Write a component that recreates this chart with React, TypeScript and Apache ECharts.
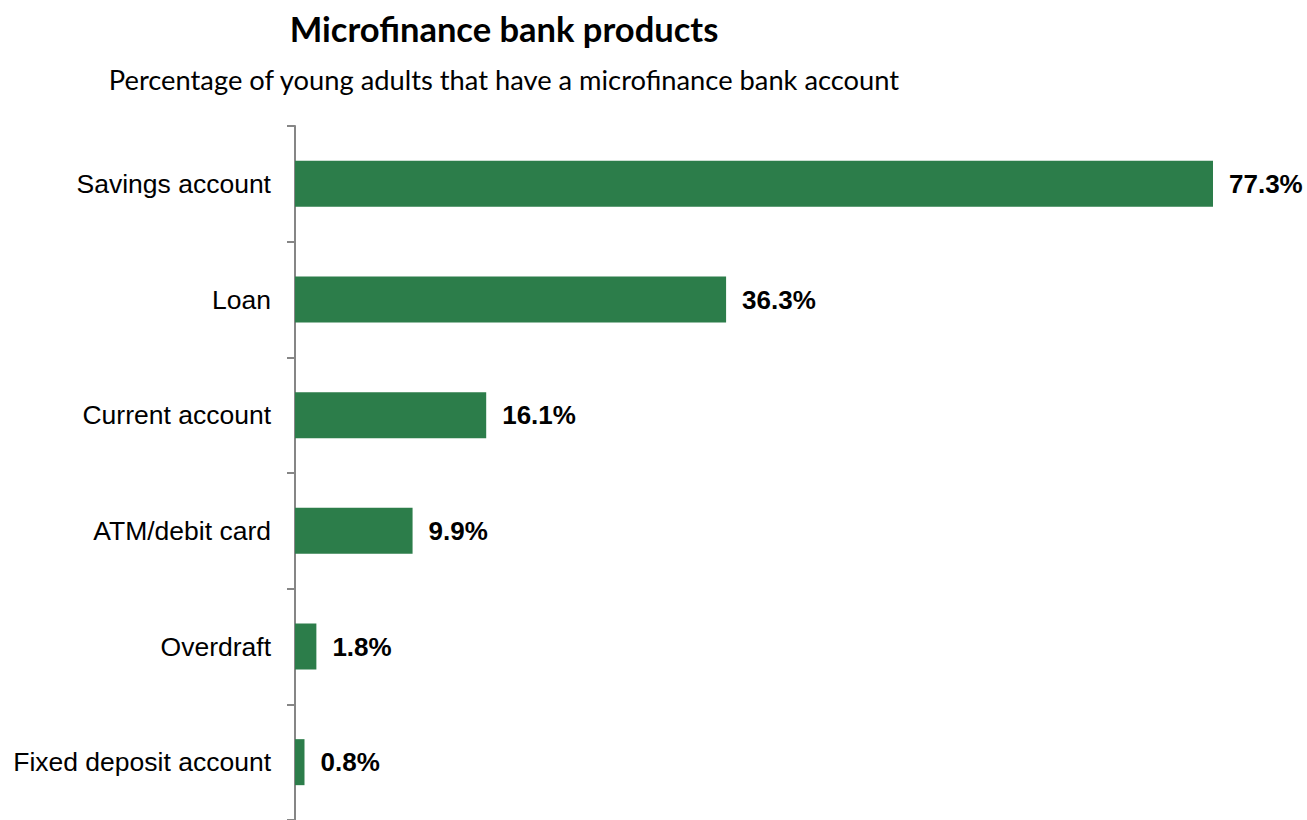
import React, { useEffect, useRef } from "react";
import * as echarts from "echarts";

const categories = [
  "Savings account",
  "Loan",
  "Current account",
  "ATM/debit card",
  "Overdraft",
  "Fixed deposit account",
];
const values = [77.3, 36.3, 16.1, 9.9, 1.8, 0.8];
const titleText = "Microfinance bank products";
const subtitleText = "Percentage of young adults that have a microfinance bank account";

export default function App() {
  const ref = useRef<HTMLDivElement>(null);
  useEffect(() => {
    if (!ref.current) return;
    const chart = echarts.init(ref.current, null, { renderer: "svg" });
    chart.setOption({
      animation: false,
      backgroundColor: "#ffffff",
      grid: { left: 295, top: 126, width: 918, height: 696, containLabel: false },
      xAxis: {
        type: "value",
        min: 0,
        max: 77.3,
        show: false,
      },
      yAxis: {
        type: "category",
        data: categories,
        inverse: true,
        axisLine: { show: true, lineStyle: { color: "#868686", width: 2 } },
        axisTick: { show: true, length: 8, lineStyle: { color: "#868686", width: 2 } },
        axisLabel: {
          margin: 24,
          color: "#000000",
          fontFamily: "Liberation Sans, Arial, sans-serif",
          fontSize: 26.5,
        },
        splitLine: { show: false },
      },
      series: [
        {
          type: "bar",
          data: values,
          barWidth: 46,
          itemStyle: { color: "#2C7D4A" },
          label: {
            show: true,
            position: "right",
            distance: 16,
            formatter: (p: any) => p.value.toFixed(1) + "%",
            color: "#000000",
            fontFamily: "Liberation Sans, Arial, sans-serif",
            fontWeight: "bold",
            fontSize: 26,
          },
        },
      ],
      graphic: [
        {
          type: "text",
          x: 504,
          y: 28,
          style: {
            text: titleText,
            textAlign: "center",
            textVerticalAlign: "middle",
            fontFamily: "Lato, sans-serif",
            fontWeight: "bold",
            fontSize: 34.5,
            fill: "#000000",
          },
        },
        {
          type: "text",
          x: 504,
          y: 79,
          style: {
            text: subtitleText,
            textAlign: "center",
            textVerticalAlign: "middle",
            fontFamily: "Lato, sans-serif",
            fontSize: 27.3,
            fill: "#000000",
          },
        },
      ],
    });
    return () => chart.dispose();
  }, []);
  return (
    <div
      ref={ref}
      style={{ position: "fixed", left: 0, top: 0, width: 1307, height: 820 }}
    />
  );
}
